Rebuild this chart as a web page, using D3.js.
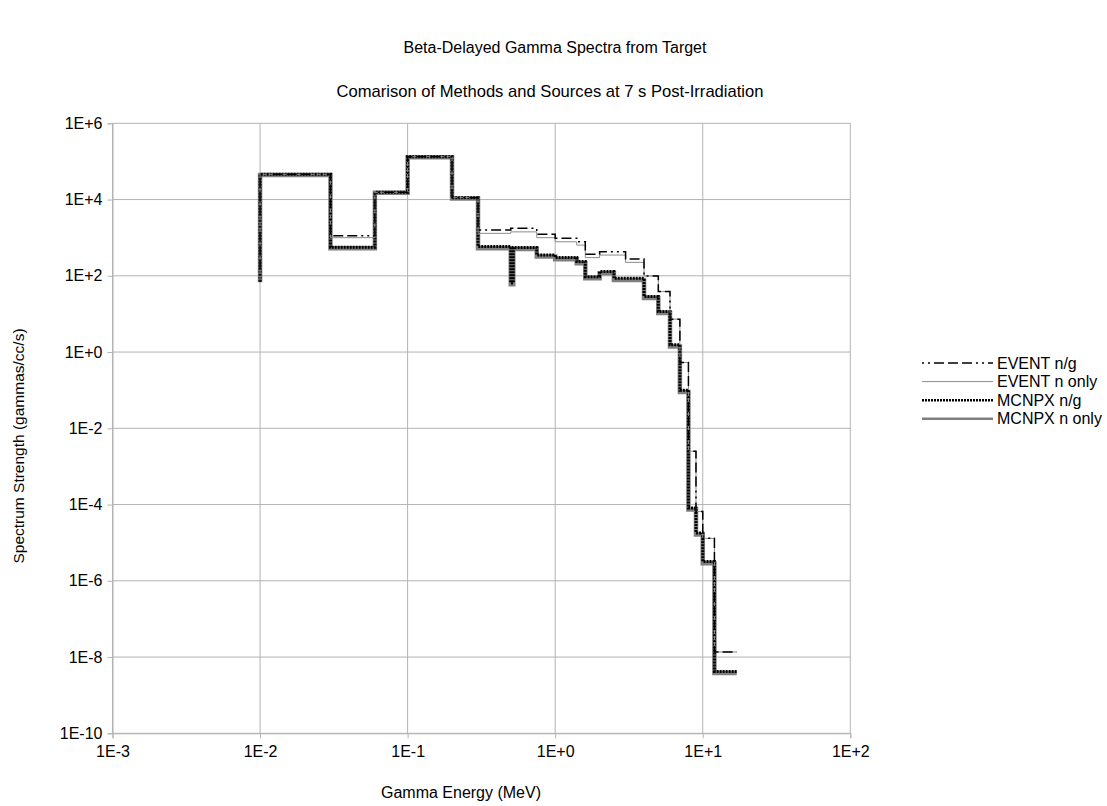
<!DOCTYPE html>
<html><head><meta charset="utf-8">
<script src="https://cdn.jsdelivr.net/npm/d3@7"></script>
<style>body{margin:0;background:#fff} text{font-family:"Liberation Sans",Arial,sans-serif;fill:#000}</style>
</head><body><svg id="c" width="1107" height="806"></svg>
<script>
// Upper bin edges (MeV); first point is the start of the spectrum
const energies   = [0.01, 0.03, 0.06, 0.1, 0.2, 0.3, 0.5, 0.52, 0.75, 1.0, 1.4, 1.6, 2.0, 2.5, 3.0, 4.0, 5.0, 6.0, 7.0, 8.0, 9.0, 10, 12, 17];
const eventNG    = [70, 4.6e4, 1130, 1.55e4, 1.33e5, 1.12e4, 1600, 1770, 1770, 1230, 968, 787, 368, 430, 430, 277, 99, 38.5, 7.3, 0.53, 2.5e-3, 6.6e-5, 1.3e-5, 1.36e-8];
const eventNOnly = [70, 4.6e4, 1000, 1.55e4, 1.33e5, 1.12e4, 1300, 1420, 1420, 1000, 780, 640, 300, 350, 350, 225, 99, 38.5, 7.3, 0.53, 2.5e-3, 6.6e-5, 1.3e-5, 1.36e-8];
const mcnpxNG    = [70, 4.6e4, 562, 1.55e4, 1.33e5, 1.12e4, 583, 65, 550, 353, 300, 236, 95, 129, 86, 86, 28.5, 11.5, 1.55, 0.10, 8.1e-5, 1.8e-5, 3.2e-6, 4.2e-9];
const mcnpxNOnly = [68, 4.4e4, 530, 1.5e4, 1.28e5, 1.06e4, 530, 60, 505, 322, 272, 214, 86, 117, 78, 78, 26, 10.5, 1.4, 0.09, 7.4e-5, 1.65e-5, 2.9e-6, 3.8e-9];
const seriesNames = ["EVENT n/g", "EVENT n only", "MCNPX n/g", "MCNPX n only"];
const xTicks = [1e-3, 1e-2, 1e-1, 1e0, 1e1, 1e2];
const xTickLabels = ["1E-3", "1E-2", "1E-1", "1E+0", "1E+1", "1E+2"];
const yTicks = [1e-10, 1e-8, 1e-6, 1e-4, 1e-2, 1e0, 1e2, 1e4, 1e6];
const yTickLabels = ["1E-10", "1E-8", "1E-6", "1E-4", "1E-2", "1E+0", "1E+2", "1E+4", "1E+6"];

const svg = d3.select("#c");
const L = 112.5, R = 850.3, T = 123.3, B = 733.3;
const x = d3.scaleLog().domain([1e-3, 1e2]).range([L, R]);
const y = d3.scaleLog().domain([1e-10, 1e6]).range([B, T]);
const grid = "#b3b3b3";
const FS = 16;

// gridlines
svg.append("g").selectAll("line").data(xTicks).join("line")
  .attr("x1", d => x(d)).attr("x2", d => x(d)).attr("y1", T).attr("y2", B)
  .attr("stroke", grid).attr("stroke-width", 1);
svg.append("g").selectAll("line").data(yTicks).join("line")
  .attr("x1", L).attr("x2", R).attr("y1", d => y(d)).attr("y2", d => y(d))
  .attr("stroke", grid).attr("stroke-width", 1);

// axes
const xAxis = svg.append("g").attr("transform", `translate(0,${B})`)
  .call(d3.axisBottom(x).tickValues(xTicks).tickFormat((d, i) => xTickLabels[i]).tickSize(5).tickPadding(7));
const yAxis = svg.append("g").attr("transform", `translate(${L},0)`)
  .call(d3.axisLeft(y).tickValues(yTicks).tickFormat((d, i) => yTickLabels[i]).tickSize(5).tickPadding(5));
[xAxis, yAxis].forEach(a => {
  a.select(".domain").attr("stroke", grid);
  a.selectAll(".tick line").attr("stroke", grid);
  a.selectAll(".tick text").attr("font-size", FS).attr("font-family", "Liberation Sans, Arial, sans-serif").attr("fill", "#000");
});

// series
const styles = {
  "EVENT n/g":    {stroke: "#000", width: 1.5, dash: "2,4,2,4,10,4,10,4,10,4"},
  "EVENT n only": {stroke: "#8c8c8c", width: 1, dash: null},
  "MCNPX n/g":    {stroke: "#000", width: 3, dash: "2,1"},
  "MCNPX n only": {stroke: "#7f7f7f", width: 4.5, dash: null}
};
const valuesBy = {"EVENT n/g": eventNG, "EVENT n only": eventNOnly, "MCNPX n/g": mcnpxNG, "MCNPX n only": mcnpxNOnly};
const line = d3.line().x(d => x(d[0])).y(d => y(d[1])).curve(d3.curveStepBefore);
const drawOrder = ["MCNPX n only", "MCNPX n/g", "EVENT n only", "EVENT n/g"];
drawOrder.forEach(name => {
  const s = styles[name];
  const pts = energies.map((e, i) => [e, valuesBy[name][i]]);
  svg.append("path").datum(pts).attr("d", line).attr("fill", "none")
    .attr("stroke", s.stroke).attr("stroke-width", s.width)
    .attr("stroke-dasharray", s.dash).attr("stroke-linejoin", "miter");
});

// titles
svg.append("text").attr("x", 555).attr("y", 53).attr("text-anchor", "middle").attr("font-size", 16)
  .text("Beta-Delayed Gamma Spectra from Target");
svg.append("text").attr("x", 550).attr("y", 97).attr("text-anchor", "middle").attr("font-size", 16.6)
  .text("Comarison of Methods and Sources at 7 s Post-Irradiation");
svg.append("text").attr("x", 461).attr("y", 798).attr("text-anchor", "middle").attr("font-size", FS)
  .text("Gamma Energy (MeV)");
svg.append("text").attr("transform", "translate(24,446) rotate(-90)").attr("text-anchor", "middle").attr("font-size", 15.5)
  .text("Spectrum Strength (gammas/cc/s)");

// legend
const lg = svg.append("g");
seriesNames.forEach((name, i) => {
  const s = styles[name];
  const yy = 363 + i * 18.6;
  lg.append("line").attr("x1", 922).attr("x2", 993).attr("y1", yy).attr("y2", yy)
    .attr("stroke", s.stroke).attr("stroke-width", Math.min(s.width, 2.5)).attr("stroke-dasharray", s.dash);
  lg.append("text").attr("x", 997).attr("y", yy + 5.5).attr("font-size", FS).text(name);
});
</script></body></html>
